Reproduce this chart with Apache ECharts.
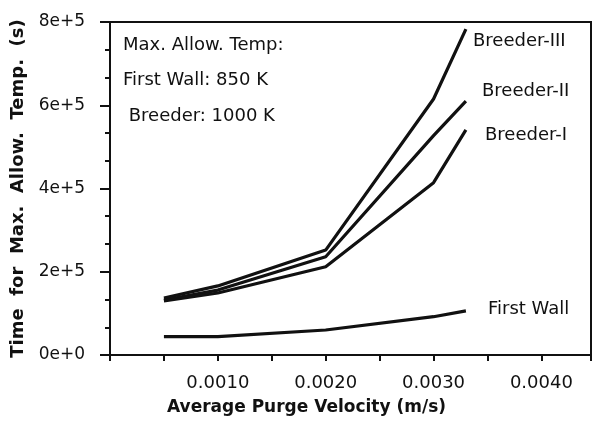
<!DOCTYPE html>
<html>
<head>
<meta charset="utf-8">
<script src="https://cdn.jsdelivr.net/npm/echarts@6/dist/echarts.min.js"></script>
<style>html,body{margin:0;padding:0;background:#fff;}#c{width:594px;height:422px;}</style>
</head>
<body>
<div id="c"></div>
<script>
// Data
var velocity = [0.0005, 0.0010, 0.0020, 0.0030, 0.0033];
var breeder3 = [137000, 166000, 252000, 615000, 783000];
var breeder2 = [132000, 156000, 236000, 527000, 610000];
var breeder1 = [130000, 149000, 212000, 414000, 541000];
var firstWall = [44000, 44000, 60000, 92000, 106000];
var seriesNames = ['Breeder-III', 'Breeder-II', 'Breeder-I', 'First Wall'];
var yTickLabels = ['0e+0', '2e+5', '4e+5', '6e+5', '8e+5'];
var xTickLabels = ['0.0010', '0.0020', '0.0030', '0.0040'];
var noteLines = ['Max. Allow. Temp:', 'First Wall: 850 K', ' Breeder: 1000 K'];

function pairs(ys) { return velocity.map(function (x, i) { return [x, ys[i]]; }); }

var FONT = 'DejaVu Sans';
var INK = '#111';
var chart = echarts.init(document.getElementById('c'), null, {renderer: 'canvas'});

var lineStyle = {color: INK, width: 3.2};
function mk(name, ys) {
  return {name: name, type: 'line', data: pairs(ys), symbol: 'none',
    lineStyle: lineStyle, itemStyle: {color: INK}, z: 3, animation: false};
}

chart.setOption({
  backgroundColor: '#fff',
  animation: false,
  grid: {left: 110, right: 2, top: 22, bottom: 67, show: true,
    borderColor: INK, borderWidth: 2, backgroundColor: 'transparent'},
  xAxis: {
    type: 'value', min: 0, max: 0.00446, interval: 0.0005,
    axisLine: {show: true, onZero: false, lineStyle: {color: INK, width: 2}},
    axisTick: {show: true, length: 6, lineStyle: {color: INK, width: 2}},
    splitLine: {show: false},
    axisLabel: {
      margin: 19, fontFamily: FONT, fontSize: 18, color: INK,
      formatter: function (v) {
        var k = Math.round(v / 0.0005);
        if (Math.abs(v - k * 0.0005) > 1e-9) return '';
        if (k % 2 !== 0 || k === 0) return '';
        return xTickLabels[k / 2 - 1] || '';
      }
    }
  },
  yAxis: {
    type: 'value', min: 0, max: 800000, interval: 200000,
    name: 'Time  for  Max.  Allow.  Temp.  (s)',
    nameLocation: 'middle', nameGap: 77,
    nameTextStyle: {fontFamily: FONT, fontSize: 18, fontWeight: 'bold', color: INK},
    axisLine: {show: true, lineStyle: {color: INK, width: 2}},
    axisTick: {show: true, length: 10, lineStyle: {color: INK, width: 2}},
    minorTick: {show: true, splitNumber: 3, length: 5, lineStyle: {color: INK, width: 2}},
    splitLine: {show: false},
    axisLabel: {
      margin: 25, fontFamily: FONT, fontSize: 17, color: INK,
      formatter: function (v) { return yTickLabels[Math.round(v / 200000)]; }
    }
  },
  series: [mk(seriesNames[0], breeder3), mk(seriesNames[1], breeder2),
           mk(seriesNames[2], breeder1), mk(seriesNames[3], firstWall)],
  graphic: [
    {type: 'text', left: 473, top: 32, style: {text: seriesNames[0], font: '18px "DejaVu Sans"', fill: INK}},
    {type: 'text', left: 482, top: 82, style: {text: seriesNames[1], font: '18px "DejaVu Sans"', fill: INK}},
    {type: 'text', left: 485, top: 126, style: {text: seriesNames[2], font: '18px "DejaVu Sans"', fill: INK}},
    {type: 'text', left: 488, top: 300, style: {text: seriesNames[3], font: '18px "DejaVu Sans"', fill: INK}},
    {type: 'text', left: 123, top: 36, style: {text: noteLines[0], font: '18px "DejaVu Sans"', fill: INK}},
    {type: 'text', left: 123, top: 71, style: {text: noteLines[1], font: '18px "DejaVu Sans"', fill: INK}},
    {type: 'text', left: 123, top: 107, style: {text: noteLines[2], font: '18px "DejaVu Sans"', fill: INK}},
    {type: 'text', left: 167, top: 399, style: {text: 'Average Purge Velocity (m/s)', font: 'bold 17px "DejaVu Sans"', fill: INK}}
  ]
});
</script>
</body>
</html>
